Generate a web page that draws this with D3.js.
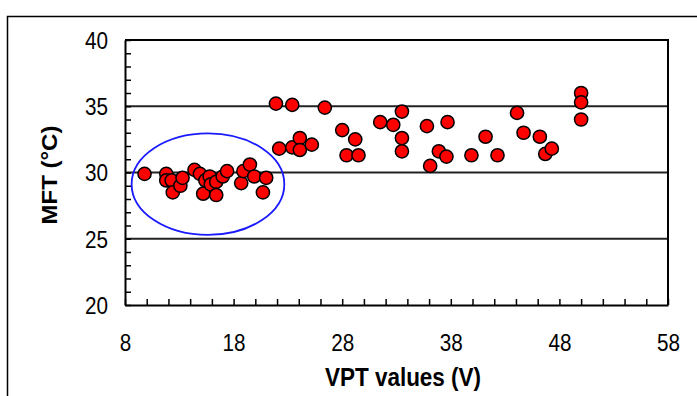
<!DOCTYPE html>
<html>
<head>
<meta charset="utf-8">
<script src="https://cdn.jsdelivr.net/npm/d3@7"></script>
<style>
  body { margin: 0; background: #fff; }
  text { font-family: "Liberation Sans", Arial, sans-serif; fill: #000; }
</style>
</head>
<body>
<div id="chart"></div>
<script>
// VPT (V) vs MFT (°C)
const vptValues = [
  9.8, 11.8, 11.8, 12.3, 12.4, 13.1, 13.3, 14.4, 14.9, 15.4, 15.2, 15.8,
  15.9, 16.4, 16.4, 17.0, 17.4, 18.7, 18.9, 19.5, 19.9, 21.0, 20.7,
  21.9, 23.4, 26.4, 22.2, 23.4, 24.1, 24.1, 25.2, 28.0, 29.2, 28.4, 29.5,
  31.5, 32.7, 33.5, 33.5, 33.5, 35.8, 36.1, 36.9, 37.6, 37.7, 39.9, 41.2,
  42.3, 44.1, 44.7, 46.2, 46.7, 47.3, 50.0, 50.0, 50.0
];
const mftValues = [
  29.9, 29.9, 29.4, 29.4, 28.5, 29.0, 29.6, 30.2, 29.9, 29.4, 28.4, 29.7,
  29.1, 29.3, 28.3, 29.7, 30.1, 29.2, 30.1, 30.6, 29.7, 29.6, 28.5,
  35.2, 35.1, 34.9, 31.8, 31.9, 32.6, 31.7, 32.1, 33.2, 32.5, 31.3, 31.3,
  33.8, 33.6, 34.6, 32.6, 31.6, 33.5, 30.5, 31.6, 31.2, 33.8, 31.3, 32.7,
  31.3, 34.5, 33.0, 32.7, 31.4, 31.8, 36.0, 35.3, 34.0
];
const xTickLabels = [8, 18, 28, 38, 48, 58];
const yTickLabels = [20, 25, 30, 35, 40];
const gridValues = [25, 30, 35];
// circled group of low-VPT samples (data units)
const highlight = { cx: 15.64, cy: 29.12, rx: 7.03, ry: 3.83 };

const width = 697, height = 396;
const margin = {top: 40, right: 29, bottom: 91, left: 125};
const sx = 0.9; // horizontal squeeze of the original text

const svg = d3.select('#chart').append('svg')
  .attr('width', width)
  .attr('height', height);

// outer frame
svg.append('rect')
  .attr('x', 7.5).attr('y', 16.5)
  .attr('width', 720).attr('height', 420)
  .attr('fill', 'none').attr('stroke', '#000').attr('stroke-width', 1.5);

const x = d3.scaleLinear()
  .domain([8, 58])
  .range([margin.left, width - margin.right]);

const y = d3.scaleLinear()
  .domain([20, 40])
  .range([height - margin.bottom, margin.top]);

const data = vptValues.map((v, i) => ({vpt: v, mft: mftValues[i]}));

// gridlines
svg.append('g')
  .selectAll('line')
  .data(gridValues)
  .enter().append('line')
    .attr('x1', x(8)).attr('x2', x(58))
    .attr('y1', d => y(d)).attr('y2', d => y(d))
    .attr('stroke', '#222').attr('stroke-width', 2);

// top and right border of the plot
svg.append('path')
  .attr('d', `M${x(8)},${y(40)}H${x(58)}V${y(20)}`)
  .attr('fill', 'none').attr('stroke', '#000').attr('stroke-width', 2);

const xAxis = svg.append('g')
  .attr('class', 'axis axis--x')
  .attr('transform', 'translate(0,' + y(20) + ')')
  .call(d3.axisBottom(x)
    .tickValues(d3.range(8, 59, 2))
    .tickSizeInner(-6).tickSizeOuter(0)
    .tickFormat(d => xTickLabels.includes(d) ? d : ''));
xAxis.select('.domain').attr('stroke-width', 2);
xAxis.selectAll('.tick line').attr('stroke-width', 1.5);
xAxis.selectAll('.tick text')
  .attr('y', 46).attr('dy', 0)
  .attr('transform', `scale(${sx},1)`)
  .style('font-size', '23px');

const yAxis = svg.append('g')
  .attr('class', 'axis axis--y')
  .attr('transform', 'translate(' + x(8) + ',0)')
  .call(d3.axisLeft(y)
    .tickValues(d3.range(20, 41, 1))
    .tickSizeInner(-6).tickSizeOuter(0)
    .tickFormat(d => yTickLabels.includes(d) ? d : ''));
yAxis.select('.domain').attr('stroke-width', 2);
yAxis.selectAll('.tick line').attr('stroke-width', 1.5);
yAxis.selectAll('.tick text')
  .attr('x', -17 / sx).attr('dy', '0.36em')
  .attr('transform', `scale(${sx},1)`)
  .style('font-size', '23px');

// points
svg.append('g')
  .selectAll('circle')
  .data(data)
  .enter().append('circle')
    .attr('cx', d => x(d.vpt))
    .attr('cy', d => y(d.mft))
    .attr('r', 6.6)
    .attr('fill', '#ff0000')
    .attr('stroke', '#000')
    .attr('stroke-width', 1.5);

// highlight ellipse
svg.append('ellipse')
  .attr('cx', x(highlight.cx))
  .attr('cy', y(highlight.cy))
  .attr('rx', x(highlight.cx + highlight.rx) - x(highlight.cx))
  .attr('ry', y(highlight.cy - highlight.ry) - y(highlight.cy))
  .attr('fill', 'none')
  .attr('stroke', '#1a1aff')
  .attr('stroke-width', 1.8);

// axis titles
svg.append('text')
  .attr('transform', `translate(403,386) scale(${sx},1)`)
  .attr('text-anchor', 'middle')
  .style('font-size', '25px').style('font-weight', 'bold')
  .text('VPT values (V)');

svg.append('text')
  .attr('transform', `translate(57,175) rotate(-90) scale(1,${sx})`)
  .attr('text-anchor', 'middle')
  .style('font-size', '24px').style('font-weight', 'bold')
  .text('MFT (°C)');
</script>
</body>
</html>
